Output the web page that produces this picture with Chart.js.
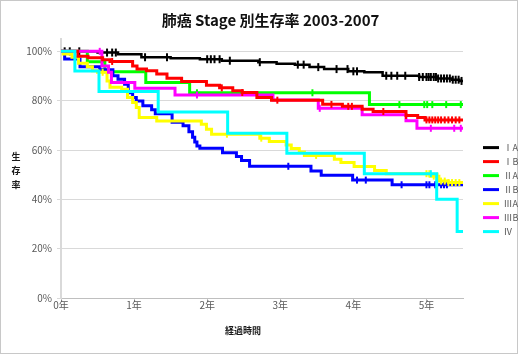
<!DOCTYPE html>
<html><head><meta charset="utf-8">
<script src="https://cdn.jsdelivr.net/npm/chart.js@4.4.1/dist/chart.umd.min.js"></script>
<style>html,body{margin:0;padding:0;background:#fff;} canvas{display:block;}</style>
</head><body>
<canvas id="c" width="520" height="356"></canvas>
<script>
const chartTitle = '肺癌 Stage 別生存率 2003-2007';
const stageNames = ['ⅠA','ⅠB','ⅡA','ⅡB','ⅢA','ⅢB','Ⅳ'];
const xTickLabels = ['0年','1年','2年','3年','4年','5年'];
const yTickValues = [0,20,40,60,80,100];
const xAxisTitle = '経過時間';
const yAxisTitle = '生存率';

// survival steps: time (years) and survival (%) after each step; censor times
const timeIA = [0, 0.5, 0.78, 1.1, 1.5, 1.9, 2.2, 2.7, 2.95, 3.2, 3.4, 3.6, 3.93, 4.15, 4.4, 4.9, 5.15, 5.35, 5.45, 5.5];
const survIA = [100, 99.5, 98.8, 97.6, 97.2, 96.8, 96.2, 95.6, 95.0, 94.6, 93.6, 92.8, 91.9, 91.5, 90.1, 89.6, 89.0, 88.5, 88.0, 88.0];
const censorIA = [0.05, 0.12, 0.25, 0.63, 0.7, 0.75, 1.15, 1.45, 2.0, 2.05, 2.1, 2.17, 2.31, 2.72, 3.24, 3.32, 3.52, 3.77, 3.92, 4.0, 4.05, 4.45, 4.52, 4.6, 4.71, 4.9, 4.95, 5.0, 5.03, 5.06, 5.1, 5.13, 5.16, 5.2, 5.24, 5.28, 5.32, 5.36, 5.4, 5.44, 5.48];

const timeIB = [0, 0.23, 0.37, 0.57, 0.67, 0.98, 1.04, 1.17, 1.31, 1.45, 1.65, 1.99, 2.17, 2.35, 2.48, 2.68, 2.88, 3.58, 3.85, 4.12, 4.27, 4.72, 4.88, 4.98, 5.5];
const survIB = [100, 98, 97.4, 96.6, 95.9, 94.1, 92.8, 92.1, 90.8, 89.1, 87.8, 86.2, 85.2, 84, 83.3, 81.3, 80.2, 78.5, 77.7, 76.5, 75.6, 74.0, 73.2, 72.2, 72.2];
const censorIB = [0.7, 2.2, 2.48, 2.96, 3.7, 3.93, 3.98, 4.41, 4.72, 5.0, 5.04, 5.08, 5.12, 5.16, 5.2, 5.25, 5.3, 5.35, 5.4, 5.45];

const timeIIA = [0, 0.36, 0.6, 1.16, 1.76, 4.22, 5.5];
const survIIA = [100, 95.8, 91.7, 87.4, 83.2, 78.4, 78.4];
const censorIIA = [1.86, 3.44, 4.63, 4.97, 5.01, 5.08, 5.27, 5.47];

const timeIIB = [0, 0.05, 0.26, 0.53, 0.71, 0.78, 0.87, 0.92, 0.98, 1.03, 1.12, 1.24, 1.29, 1.52, 1.67, 1.75, 1.8, 1.83, 1.86, 1.9, 2.21, 2.4, 2.47, 2.58, 3.42, 3.56, 3.99, 4.53, 5.5];
const survIIB = [100, 96.9, 93.8, 92.5, 90.1, 88.7, 86.7, 83.2, 81.3, 79.9, 77.9, 76.3, 74.7, 71.2, 69.8, 67.4, 65.2, 63.2, 61.6, 60.7, 58.9, 57.4, 55.7, 53.4, 51.5, 49.8, 47.8, 45.9, 45.9];
const censorIIB = [3.11, 4.05, 4.17, 4.66, 5.0, 5.04, 5.12, 5.2, 5.24, 5.28];

const timeIIIA = [0, 0.03, 0.15, 0.24, 0.36, 0.43, 0.5, 0.63, 0.67, 0.83, 0.91, 0.98, 1.03, 1.07, 1.31, 1.92, 1.99, 2.06, 2.72, 2.85, 3.08, 3.15, 3.26, 3.33, 3.74, 3.83, 4.01, 4.29, 4.45, 5.05, 5.17, 5.3, 5.5];
const survIIIA = [100, 98.9, 97.6, 95.2, 93.8, 92.1, 91.5, 88, 85.4, 84.6, 81.3, 79.3, 77.2, 73.2, 71.8, 70.4, 68.4, 66.4, 64.8, 63.4, 62, 60.6, 59.2, 57.8, 56.2, 54.9, 53.3, 51.7, 50.4, 49.4, 47.4, 46.8, 46.8];
const censorIIIA = [0.57, 2.27, 2.74, 3.49, 5.0, 5.04, 5.1, 5.15, 5.2, 5.25, 5.3, 5.35, 5.4, 5.45];

const timeIIIB = [0, 0.56, 0.65, 0.69, 1.01, 1.56, 2.9, 3.52, 4.12, 4.72, 4.87, 5.5];
const survIIIB = [100, 94.1, 91.5, 87.4, 85, 82.3, 80.3, 76.9, 74.3, 71.9, 68.8, 68.8];
const censorIIIB = [0.53, 1.86, 3.54, 5.06, 5.38, 5.47];

const timeIV = [0, 0.19, 0.52, 1.33, 2.28, 3.09, 4.15, 5.14, 5.42, 5.5];
const survIV = [100, 92, 83.7, 75.4, 66.8, 58.7, 50.4, 40, 27, 27];
const censorIV = [5.06];

const seriesTimes = [timeIA, timeIB, timeIIA, timeIIB, timeIIIA, timeIIIB, timeIV];
const seriesSurv = [survIA, survIB, survIIA, survIIB, survIIIA, survIIIB, survIV];
const seriesCensor = [censorIA, censorIB, censorIIA, censorIIB, censorIIIA, censorIIIB, censorIV];

const colors = ['#000000','#ff0000','#00ff00','#0000ff','#ffff00','#ff00ff','#00ffff'];
const lineWidths = [2.5,3,3,3,3,3,3];
const drawOrder = [6,1,5,4,3,2,0];

function survivalAt(t, times, surv) {
  let v = surv[0];
  for (let i = 0; i < times.length; i++) { if (times[i] <= t) v = surv[i]; }
  return v;
}

const datasets = [];
stageNames.forEach((name, i) => {
  datasets.push({
    label: name,
    data: seriesTimes[i].map((x, k) => ({x: x, y: seriesSurv[i][k]})),
    borderColor: colors[i], backgroundColor: colors[i],
    borderWidth: lineWidths[i], stepped: 'before', showLine: true,
    pointRadius: 0, pointHoverRadius: 0, fill: false, order: drawOrder[i]
  });
});
stageNames.forEach((name, i) => {
  datasets.push({
    label: name + ' 打ち切り',
    data: seriesCensor[i].map(x => ({x: x, y: survivalAt(x, seriesTimes[i], seriesSurv[i])})),
    borderColor: colors[i], backgroundColor: colors[i], showLine: false,
    pointStyle: 'line', pointRotation: 90, pointRadius: i === 0 ? 4 : 3.5,
    pointBorderWidth: 2, pointHoverRadius: 0, order: drawOrder[i] - 0.5
  });
});

const frameAndTitles = {
  id: 'frameAndTitles',
  beforeDraw(chart) {
    const ctx = chart.ctx;
    ctx.save();
    ctx.fillStyle = '#ffffff';
    ctx.fillRect(0, 0, chart.width, chart.height);
    ctx.strokeStyle = '#c8c8c8';
    ctx.lineWidth = 1;
    ctx.strokeRect(0.5, 0.5, 517, 353);
    ctx.restore();
  },
  afterDraw(chart) {
    const ctx = chart.ctx;
    ctx.save();
    ctx.fillStyle = '#1a1a1a';
    ctx.font = "bold 9px 'Noto Sans CJK JP'";
    ctx.textAlign = 'center';
    ctx.textBaseline = 'middle';
    ctx.fillText(xAxisTitle, 243, 331);
    Array.from(yAxisTitle).forEach((ch, i) => ctx.fillText(ch, 16, 157 + i * 14));
    ctx.restore();
  }
};

Chart.defaults.font.family = "'Noto Sans CJK JP', 'Noto Sans', sans-serif";

new Chart(document.getElementById('c'), {
  type: 'scatter',
  data: { datasets: datasets },
  options: {
    responsive: false, animation: false, devicePixelRatio: 1,
    layout: { padding: { left: 21, right: 0, top: 0, bottom: 38 } },
    scales: {
      x: {
        type: 'linear', min: 0, max: 5.5,
        afterBuildTicks: s => { s.ticks = xTickLabels.map((_, i) => ({ value: i })); },
        afterFit: s => { s.height = 20; },
        ticks: { callback: v => xTickLabels[v], color: '#595959', font: { size: 10 }, padding: -3, maxRotation: 0, autoSkip: false },
        grid: { drawOnChartArea: false, drawTicks: true, tickLength: 4, color: '#bfbfbf' },
        border: { color: '#bfbfbf', width: 1 }
      },
      y: {
        min: 0, max: 105,
        afterBuildTicks: s => { s.ticks = yTickValues.map(v => ({ value: v })); },
        afterFit: s => { s.width = 40; },
        ticks: { callback: v => v + '%', color: '#595959', font: { size: 10 }, padding: 5 },
        grid: { color: '#d9d9d9', tickLength: 4, drawTicks: true },
        border: { color: '#d9d9d9', width: 2 }
      },
      y2: {
        position: 'right', min: 0, max: 1,
        grid: { display: false }, ticks: { display: false }, border: { display: false },
        afterFit: s => { s.width = 15; }
      }
    },
    plugins: {
      title: { display: true, text: chartTitle, color: '#111111', font: { size: 15, weight: 'bold' }, padding: { top: 11, bottom: 10 } },
      legend: {
        position: 'right', align: 'center', maxWidth: 42,
        title: { display: true, text: '', padding: { top: 60, bottom: 0 }, font: { size: 1 } },
        labels: {
          boxWidth: 16, boxHeight: 3, padding: 5, color: '#595959', font: { size: 9 },
          generateLabels: chart => Chart.defaults.plugins.legend.labels.generateLabels(chart).map(l => Object.assign(l, { lineWidth: 0 })),
          filter: item => item.datasetIndex < stageNames.length,
          sort: (a, b) => a.datasetIndex - b.datasetIndex
        }
      },
      tooltip: { enabled: false }
    }
  },
  plugins: [frameAndTitles]
});
</script>
</body></html>
